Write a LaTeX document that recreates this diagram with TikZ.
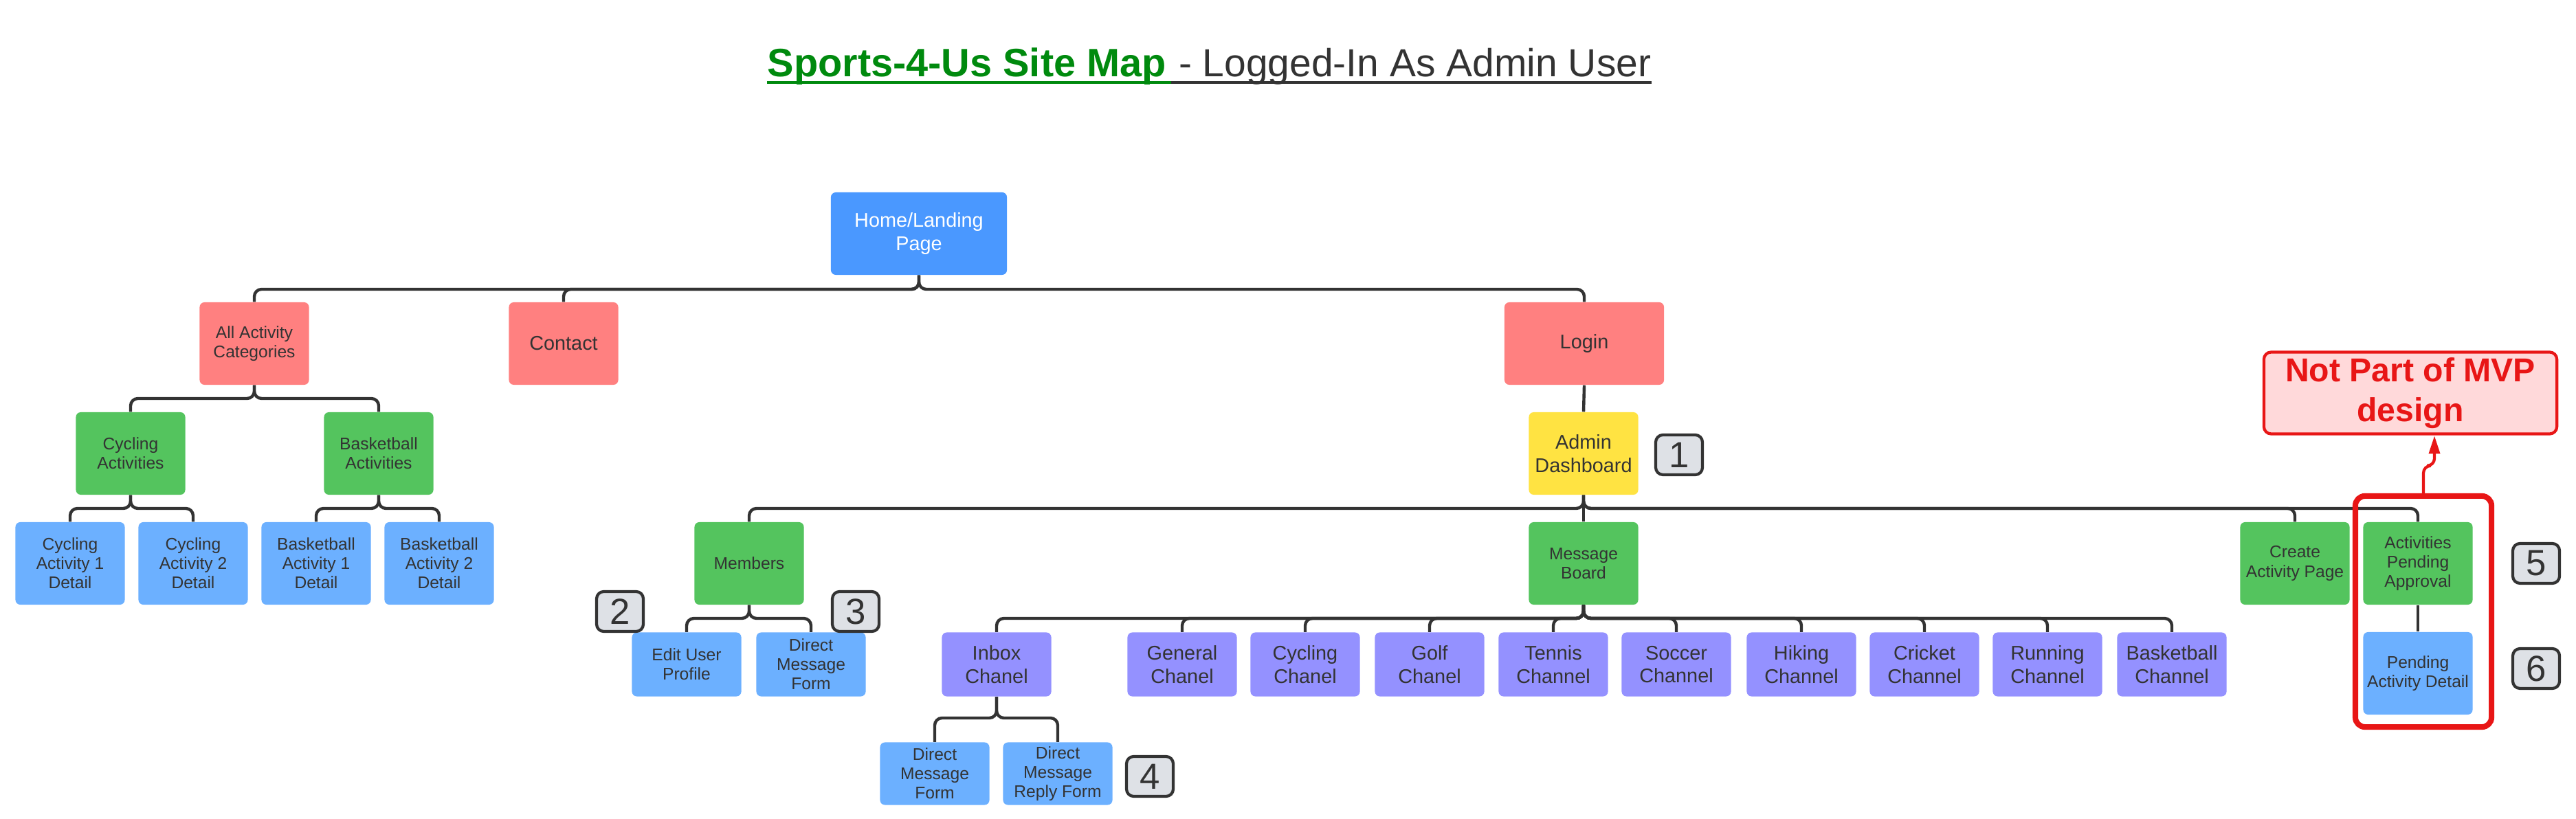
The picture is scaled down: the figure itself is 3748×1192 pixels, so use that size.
\documentclass[tikz,border=0pt]{standalone}
\usepackage{fontspec}
\setmainfont{Liberation Sans}
\usetikzlibrary{arrows.meta}
\definecolor{txt}{HTML}{333333}
\definecolor{pinkc}{HTML}{FF8080}
\definecolor{greenc}{HTML}{54C45E}
\definecolor{bluec}{HTML}{6CB0FF}
\definecolor{homec}{HTML}{4A98FF}
\definecolor{purplec}{HTML}{9491FF}
\definecolor{yellowc}{HTML}{FFE342}
\definecolor{badgec}{HTML}{DEE1E6}
\definecolor{titlegreen}{HTML}{008A0E}
\definecolor{redc}{HTML}{E81616}
\definecolor{mvpfill}{HTML}{FFD9DA}
\begin{document}
\begin{tikzpicture}[x=0.01cm,y=-0.01cm,
  nd/.style={rounded corners=2pt, align=center, text=txt, inner sep=1pt,
    minimum width=1.59cm, minimum height=1.2cm, font=\fontsize{7}{8}\selectfont},
  big/.style={font=\fontsize{8.2}{9.6}\selectfont},
  short/.style={minimum height=0.93cm},
  pinkn/.style={nd, fill=pinkc},
  greenn/.style={nd, fill=greenc},
  bluen/.style={nd, fill=bluec},
  purplen/.style={nd, fill=purplec, short, big},
  badge/.style={draw=txt, fill=badgec, line width=1.2pt, rounded corners=3pt,
    minimum width=0.68cm, minimum height=0.58cm, inner sep=0pt, text=txt,
    font=\fontsize{15}{15}\selectfont},
  conn/.style={draw=txt, line width=1.25pt, rounded corners=3pt},
  uline/.style={line width=1.1pt}]
\fill[white] (0,0) rectangle (3748,1192);
\useasboundingbox (0,0) rectangle (3748,1192);

% title
\node[anchor=base west, inner sep=0pt, text=titlegreen,
  font=\fontsize{16.4}{18}\selectfont\bfseries] (titlea) at (1116,112) {Sports-4-Us Site Map};
\node[anchor=base west, inner sep=0pt, text=txt,
  font=\fontsize{16.2}{18}\selectfont] (titleb) at ([xshift=0.17cm]titlea.base east) {- Logged-In As Admin User};
\coordinate (ulsplit) at ([xshift=0.07cm,yshift=-2.2pt]titlea.base east);
\draw[uline, titlegreen] ([yshift=-2.2pt]titlea.base west) -- (ulsplit);
\draw[uline, txt] (ulsplit) -- ([yshift=-2.2pt]titleb.base east);

% bus coordinates
\coordinate (hbus) at (0,421);
\coordinate (abus) at (0,580);
\coordinate (cbus) at (0,740);
\coordinate (dbus) at (0,740);
\coordinate (mbus) at (0,900);
\coordinate (ibus) at (0,1045);

% level 1-2
\node[nd, big, fill=homec, text=white, minimum width=2.56cm] (home) at (1337,340) {Home/Landing\\Page};
\node[pinkn] (allact) at (370,500) {All Activity\\Categories};
\node[pinkn, big] (contact) at (820,500) {Contact};
\node[pinkn, big, minimum width=2.32cm] (login) at (2305,500) {Login};

% activities
\node[greenn] (cycact) at (190,660) {Cycling\\Activities};
\node[greenn] (bbact) at (551,660) {Basketball\\Activities};
\node[bluen] (cd1) at (102,820) {Cycling\\Activity 1\\Detail};
\node[bluen] (cd2) at (281,820) {Cycling\\Activity 2\\Detail};
\node[bluen] (bd1) at (460,820) {Basketball\\Activity 1\\Detail};
\node[bluen] (bd2) at (639,820) {Basketball\\Activity 2\\Detail};

% admin
\node[nd, big, fill=yellowc] (admin) at (2304,660) {Admin\\Dashboard};
\node[greenn] (members) at (1090,820) {Members};
\node[greenn] (msgboard) at (2304,820) {Message\\Board};
\node[greenn] (create) at (3339,820) {Create\\Activity Page};
\node[greenn] (pending) at (3518,820) {Activities\\Pending\\Approval};
\node[bluen] (pdetail) at (3518,980) {Pending\\Activity Detail};

\node[bluen, short] (edit) at (999,967) {Edit User\\Profile};
\node[bluen, short] (dmf1) at (1180,967) {Direct\\Message\\Form};
\node[purplen] (inbox) at (1450,967) {Inbox\\Chanel};
\node[purplen] (general) at (1720,967) {General\\Chanel};
\node[purplen] (cycling) at (1899,967) {Cycling\\Chanel};
\node[purplen] (golf) at (2080,967) {Golf\\Chanel};
\node[purplen] (tennis) at (2260,967) {Tennis\\Channel};
\node[purplen] (soccer) at (2439,967) {Soccer\\Channel};
\node[purplen] (hiking) at (2621,967) {Hiking\\Channel};
\node[purplen] (cricket) at (2800,967) {Cricket\\Channel};
\node[purplen] (running) at (2979,967) {Running\\Channel};
\node[purplen] (basketball) at (3160,967) {Basketball\\Channel};

\node[bluen, minimum height=0.91cm] (dmf2) at (1360,1126) {Direct\\Message\\Form};
\node[bluen, minimum height=0.91cm] (dmrf) at (1539,1126) {Direct\\Message\\Reply Form};

% badges
\node[badge] (b1) at (2443,662) {1};
\node[badge] (b2) at (902,890) {2};
\node[badge] (b3) at (1245,890) {3};
\node[badge] (b4) at (1673,1130) {4};
\node[badge] (b5) at (3690,820) {5};
\node[badge] (b6) at (3690,973) {6};

% connectors
\foreach \c in {allact,contact,login}
  \draw[conn] (home.south) |- (\c.north |- hbus) -- (\c.north);
\foreach \c in {cycact,bbact}
  \draw[conn] (allact.south) |- (\c.north |- abus) -- (\c.north);
\foreach \c in {cd1,cd2}
  \draw[conn] (cycact.south) |- (\c.north |- cbus) -- (\c.north);
\foreach \c in {bd1,bd2}
  \draw[conn] (bbact.south) |- (\c.north |- cbus) -- (\c.north);
\draw[conn] (login.south) -- (admin.north);
\foreach \c in {members,create,pending}
  \draw[conn] (admin.south) |- (\c.north |- dbus) -- (\c.north);
\draw[conn] (admin.south) -- (msgboard.north);
\foreach \c in {edit,dmf1}
  \draw[conn] (members.south) |- (\c.north |- mbus) -- (\c.north);
\foreach \c in {inbox,general,cycling,golf,tennis,soccer,hiking,cricket,running,basketball}
  \draw[conn] (msgboard.south) |- (\c.north |- mbus) -- (\c.north);
\foreach \c in {dmf2,dmrf}
  \draw[conn] (inbox.south) |- (\c.north |- ibus) -- (\c.north);
\draw[conn] (pending.south) -- (pdetail.north);

% not part of MVP
\node[draw=redc, fill=mvpfill, line width=1.2pt, rounded corners=3pt,
  minimum width=4.26cm, minimum height=1.19cm, align=center, inner sep=0pt,
  text=redc, font=\fontsize{13.7}{16.5}\selectfont\bfseries] (mvp) at (3507,572)
  {Not Part of MVP\\design};
\node[draw=redc, line width=2.3pt, rounded corners=4pt, minimum width=1.98cm,
  minimum height=3.36cm, inner sep=0pt] (redbox) at (3526,890) {};
\coordinate (mvptip) at (3542,634);
\draw[draw=redc, line width=1.2pt, rounded corners=3pt,
  -{Triangle[length=7.5pt,width=4.5pt]}]
  (redbox.north) -- ++(0,-40) -| (mvptip);
\end{tikzpicture}
\end{document}
